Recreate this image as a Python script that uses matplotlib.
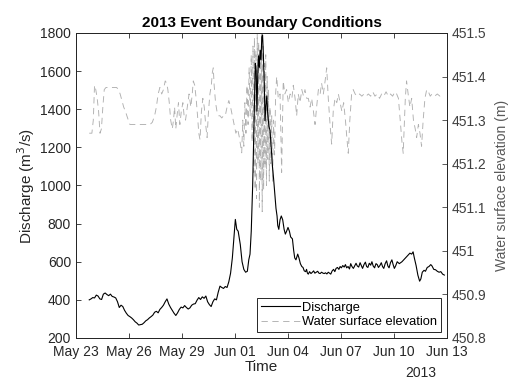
import pandas as pd
import matplotlib
matplotlib.use("Agg")
import matplotlib.pyplot as plt
import matplotlib.dates as mdates

plt.rcParams['font.family'] = ['Liberation Sans', 'DejaVu Sans']

start = pd.Timestamp('2013-05-23')

# discharge, time in days after May 23 00:00
q_days = [0.75, 0.85, 0.95, 1.05, 1.15, 1.25, 1.35, 1.45, 1.55, 1.65, 1.75, 1.85, 1.95, 2.05,
          2.15, 2.25, 2.35, 2.45, 2.55, 2.65, 2.75, 2.85, 2.95, 3.05, 3.15, 3.25, 3.35, 3.45,
          3.55, 3.65, 3.75, 3.85, 3.95, 4.05, 4.15, 4.25, 4.35, 4.45, 4.55, 4.65, 4.75, 4.85,
          4.95, 5.05, 5.15, 5.25, 5.35, 5.45, 5.55, 5.65, 5.75, 5.85, 5.95, 6.05, 6.15, 6.25,
          6.35, 6.45, 6.55, 6.65, 6.75, 6.85, 6.95, 7.05, 7.15, 7.25, 7.35, 7.45, 7.55, 7.65,
          7.75, 7.85, 7.95, 8.05, 8.15, 8.25, 8.35, 8.45, 8.55, 8.65, 8.75, 8.85, 8.95, 9.02,
          9.10, 9.18, 9.30, 9.40, 9.50, 9.60, 9.70, 9.78, 9.85, 9.92, 10.00, 10.08, 10.15, 10.20,
          10.24, 10.28, 10.33, 10.38, 10.42, 10.47, 10.52, 10.56, 10.60, 10.65, 10.70, 10.75,
          10.80, 10.85, 10.92, 10.98, 11.05, 11.12, 11.18, 11.25, 11.32, 11.38, 11.42, 11.48,
          11.55, 11.62, 11.70, 11.78, 11.85, 11.92, 12.00, 12.08, 12.15, 12.25, 12.32, 12.38,
          12.45, 12.55, 12.62, 12.70, 12.78, 12.85, 12.92, 13.00, 13.05, 13.10, 13.15, 13.22,
          13.30, 13.38, 13.45, 13.52, 13.60, 13.68, 13.75, 13.82, 13.90, 13.98, 14.05, 14.12,
          14.20, 14.28, 14.35, 14.42, 14.50, 14.58, 14.65, 14.72, 14.80, 14.88, 14.95, 15.02,
          15.10, 15.18, 15.25, 15.32, 15.40, 15.48, 15.55, 15.62, 15.70, 15.78, 15.85, 15.92,
          16.00, 16.08, 16.15, 16.22, 16.30, 16.38, 16.45, 16.52, 16.60, 16.68, 16.75, 16.82,
          16.90, 16.98, 17.05, 17.12, 17.20, 17.28, 17.35, 17.42, 17.50, 17.58, 17.65, 17.72,
          17.80, 17.88, 17.95, 18.02, 18.10, 18.18, 18.30, 18.45, 18.60, 18.75, 18.90, 19.00,
          19.08, 19.15, 19.25, 19.35, 19.45, 19.52, 19.60, 19.70, 19.78, 19.88, 19.98, 20.08,
          20.15, 20.25, 20.35, 20.45, 20.55, 20.65, 20.75, 20.85]
discharge = [400, 405, 412, 410, 425, 420, 405, 402, 430, 436, 428, 422, 430, 418,
             415, 410, 390, 360, 372, 365, 345, 330, 318, 312, 305, 296, 285, 278,
             268, 270, 272, 280, 290, 296, 305, 312, 320, 335, 340, 332, 350, 360,
             372, 390, 405, 378, 360, 345, 330, 318, 332, 350, 362, 358, 370, 360,
             352, 358, 372, 378, 380, 398, 412, 402, 416, 408, 420, 390, 375, 365,
             390, 405, 400, 440, 472, 465, 460, 470, 465, 495, 540, 620, 740, 822,
             770, 760, 690, 600, 560, 545, 550, 610, 640, 760, 1000, 1350, 1640, 1600,
             1390, 1550, 1680, 1620, 1710, 1660, 1780, 1790, 1700, 1560, 1340, 1420,
             1470, 1380, 1310, 1290, 1200, 1100, 1040, 960, 880, 840, 790, 770,
             820, 840, 820, 770, 745, 760, 780, 760, 730, 720, 660, 620,
             610, 640, 620, 590, 575, 570, 552, 548, 560, 540, 535, 548,
             538, 545, 552, 540, 545, 550, 540, 538, 545, 540, 538, 542,
             536, 545, 540, 535, 552, 560, 548, 565, 570, 560, 575, 568,
             580, 572, 585, 568, 575, 562, 590, 575, 565, 580, 592, 578,
             572, 595, 580, 565, 585, 598, 575, 570, 592, 582, 600, 578,
             568, 590, 585, 570, 580, 595, 575, 565, 590, 605, 578, 568,
             595, 610, 585, 565, 580, 600, 590, 600, 615, 630, 645, 640,
             652, 620, 580, 530, 498, 510, 545, 555, 550, 570, 575, 585,
             578, 560, 558, 550, 545, 548, 535, 530]

# water surface elevation, time in days after May 23 00:00
wse_days = [0.75, 0.90, 0.98, 1.05, 1.12, 1.20, 1.28, 1.36, 1.44, 1.52, 1.60, 1.70, 1.85, 2.00,
            2.15, 2.30, 2.40, 2.50, 2.60, 2.70, 2.80, 2.92, 3.05, 3.30, 3.60, 3.90, 4.19, 4.32,
            4.45, 4.55, 4.65, 4.75, 4.85, 4.95, 5.05, 5.13, 5.20, 5.28, 5.36, 5.45, 5.52, 5.58,
            5.65, 5.72, 5.80, 5.88, 5.96, 6.05, 6.12, 6.20, 6.30, 6.40, 6.50, 6.58, 6.64, 6.72,
            6.80, 6.88, 6.95, 7.02, 7.10, 7.18, 7.26, 7.34, 7.42, 7.50, 7.58, 7.66, 7.72, 7.77,
            7.82, 7.90, 7.98, 8.08, 8.15, 8.25, 8.35, 8.45, 8.55, 8.65, 8.75, 8.85, 8.95, 9.05,
            9.15, 9.25, 9.38, 9.44, 9.50, 9.56, 9.62, 9.68, 9.74, 9.80, 9.86, 9.92, 9.97, 10.02,
            10.06, 10.10, 10.14, 10.18, 10.22, 10.26, 10.30, 10.34, 10.38, 10.42, 10.46, 10.50,
            10.54, 10.58, 10.62, 10.66, 10.70, 10.74, 10.78, 10.82, 10.86, 10.90, 10.94, 10.98,
            11.03, 11.08, 11.13, 11.18, 11.24, 11.30, 11.36, 11.45, 11.55, 11.64, 11.73, 11.82,
            11.92, 12.02, 12.12, 12.22, 12.30, 12.40, 12.49, 12.58, 12.68, 12.78, 12.88, 12.96,
            13.06, 13.15, 13.25, 13.34, 13.44, 13.53, 13.62, 13.72, 13.82, 13.90, 14.00, 14.10,
            14.19, 14.28, 14.38, 14.47, 14.56, 14.66, 14.76, 14.85, 14.95, 15.05, 15.15, 15.25,
            15.33, 15.41, 15.50, 15.60, 15.69, 15.80, 15.92, 16.05, 16.18, 16.30, 16.42, 16.55,
            16.68, 16.80, 16.92, 17.05, 17.18, 17.30, 17.42, 17.55, 17.68, 17.80, 17.92, 18.05,
            18.15, 18.25, 18.35, 18.45, 18.52, 18.58, 18.64, 18.71, 18.80, 18.90, 19.00, 19.10,
            19.20, 19.28, 19.38, 19.47, 19.56, 19.65, 19.75, 19.85, 19.95, 20.05, 20.15, 20.30,
            20.45, 20.60, 20.79]
wse = [451.27, 451.27, 451.30, 451.38, 451.37, 451.35, 451.32, 451.27, 451.28, 451.33, 451.37,
       451.375, 451.375, 451.375, 451.375, 451.375, 451.37, 451.36, 451.345, 451.33, 451.32,
       451.305, 451.29, 451.29, 451.29, 451.29, 451.29, 451.295, 451.31, 451.33, 451.36, 451.375,
       451.36, 451.37, 451.39, 451.385, 451.37, 451.34, 451.30, 451.28, 451.30, 451.33, 451.28,
       451.31, 451.34, 451.29, 451.32, 451.34, 451.31, 451.30, 451.33, 451.36, 451.33, 451.36,
       451.39, 451.38, 451.35, 451.31, 451.27, 451.255, 451.32, 451.35, 451.33, 451.29, 451.26,
       451.32, 451.36, 451.38, 451.41, 451.42, 451.38, 451.34, 451.32, 451.31, 451.31, 451.305,
       451.31, 451.31, 451.33, 451.345, 451.33, 451.31, 451.29, 451.27, 451.28, 451.26, 451.225,
       451.30, 451.24, 451.34, 451.27, 451.38, 451.29, 451.42, 451.31, 451.45, 451.25, 451.47,
       451.18, 451.49, 451.14, 451.46, 451.12, 451.50, 451.20, 451.48, 451.10, 451.45, 451.16,
       451.50, 451.09, 451.47, 451.14, 451.43, 451.19, 451.45, 451.15, 451.40, 451.21, 451.37,
       451.16, 451.33, 451.20, 451.31, 451.16, 451.30, 451.22, 451.36, 451.40, 451.35, 451.36,
       451.18, 451.39, 451.36, 451.37, 451.34, 451.36, 451.35, 451.38, 451.35, 451.31, 451.36,
       451.34, 451.37, 451.355, 451.37, 451.35, 451.35, 451.33, 451.35, 451.32, 451.29, 451.33,
       451.37, 451.36, 451.385, 451.36, 451.39, 451.42, 451.35, 451.29, 451.245, 451.32, 451.35,
       451.34, 451.36, 451.34, 451.32, 451.34, 451.30, 451.26, 451.224, 451.30, 451.36, 451.37,
       451.36, 451.355, 451.36, 451.355, 451.36, 451.355, 451.36, 451.355, 451.365, 451.355, 451.36,
       451.35, 451.36, 451.355, 451.365, 451.355, 451.36, 451.355, 451.365, 451.36, 451.35, 451.30,
       451.25, 451.224, 451.29, 451.35, 451.39, 451.36, 451.33, 451.35, 451.30, 451.28, 451.26,
       451.29, 451.27, 451.24, 451.30, 451.35, 451.37, 451.365, 451.355, 451.36, 451.355, 451.36,
       451.355, 451.36]

q_time = start + pd.to_timedelta(q_days, unit='D')
wse_time = start + pd.to_timedelta(wse_days, unit='D')

dark = '#262626'

fig = plt.figure(figsize=(5.19, 3.81), dpi=100)
ax = fig.add_axes([0.1464, 0.1129, 0.7149, 0.8005])
ax2 = ax.twinx()

l1, = ax.plot(q_time, discharge, color='black', lw=0.8, label='Discharge')
l2, = ax2.plot(wse_time, wse, color='#b0b0b0', lw=0.65, linestyle=(0, (7, 5)),
               label='Water surface elevation')

# keep the discharge line above the elevation line
ax.set_zorder(ax2.get_zorder() + 1)
ax.patch.set_visible(False)

ax.set_xlim(start, start + pd.Timedelta(days=21))
ax.set_ylim(200, 1800)
ax.set_yticks(range(200, 1801, 200))
ax2.set_ylim(450.8, 451.5)
ax2.set_yticks([450.8, 450.9, 451.0, 451.1, 451.2, 451.3, 451.4, 451.5])
ax2.set_yticklabels(['450.8', '450.9', '451', '451.1', '451.2', '451.3', '451.4', '451.5'])

ax.xaxis.set_major_locator(mdates.DayLocator(bymonthday=[1, 4, 7, 10, 13, 23, 26, 29]))
ax.xaxis.set_major_formatter(mdates.DateFormatter('%b %d'))

ax.tick_params(direction='in', top=True, right=False, length=3.5, width=0.6,
               labelsize=10, colors=dark)
ax.tick_params(axis='x', pad=5)
ax2.tick_params(direction='in', length=3.5, width=0.6, labelsize=10, colors='#404040')
for a in (ax, ax2):
    for s in a.spines.values():
        s.set_color(dark)
        s.set_linewidth(0.7)

ax.set_title('2013 Event Boundary Conditions', fontsize=11, fontweight='bold', pad=4)
ax.set_xlabel('Time', fontsize=11, color=dark, labelpad=1)
ax.set_ylabel('Discharge (m$^3$/s)', fontsize=11, color=dark, labelpad=2)
ax2.set_ylabel('Water surface elevation (m)', fontsize=10, color='#595959', labelpad=6)
fig.text(421 / 519, 1 - 373 / 381, '2013', ha='center', va='center', fontsize=10, color=dark)

leg = ax.legend(handles=[l1, l2], loc='lower right', fontsize=9.3, fancybox=False,
                framealpha=1, edgecolor=dark, borderaxespad=0.45, handlelength=3.0,
                labelspacing=0.2, borderpad=0.3, handletextpad=0.2)
leg.get_frame().set_linewidth(0.7)

fig.savefig('out.png', dpi=100)
